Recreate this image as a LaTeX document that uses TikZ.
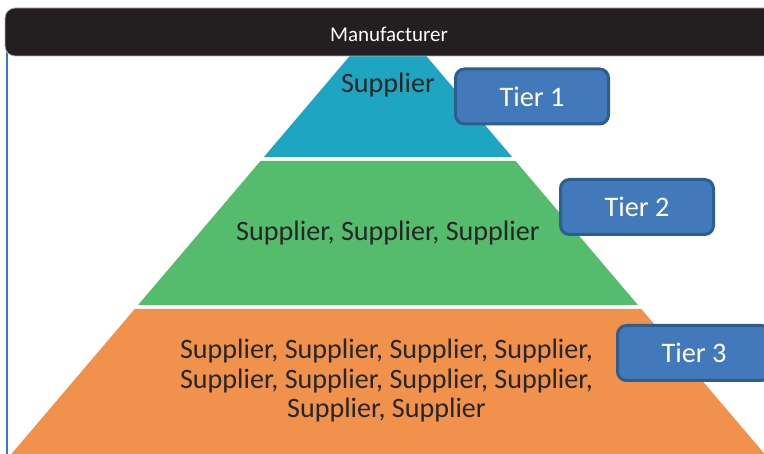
\documentclass[tikz,border=0pt]{standalone}
\usepackage{fontspec}
\setmainfont{Carlito}
\definecolor{teal1}{HTML}{1DA5C2}
\definecolor{green1}{HTML}{55BB6D}
\definecolor{orange1}{HTML}{F0924B}
\definecolor{tierfill}{HTML}{4279BB}
\definecolor{tierdraw}{HTML}{2E5E8E}
\definecolor{txt}{HTML}{262626}
\definecolor{barc}{HTML}{231F20}
\definecolor{leftline}{HTML}{3F78C8}
\tikzset{
  lbl/.style={text=txt, font=\fontsize{28.1}{29.5}\selectfont, inner sep=0pt, align=center},
  tierbox/.style={draw=tierdraw, fill=tierfill, line width=3pt, rounded corners=9pt,
    minimum width=153pt, minimum height=55pt, text=white, inner sep=0pt,
    font=\fontsize{28.3}{30}\selectfont},
  layer/.style={draw=none}
}
\begin{document}
\begin{tikzpicture}[x=1pt,y=-1pt]
\useasboundingbox (0,0) rectangle (764,454);
\clip (0,0) rectangle (764,454);
\fill[white] (0,0) rectangle (764,454);
% pyramid layers
\fill[teal1] (388,11) -- (512.1,157) -- (263.9,157) -- cycle;
\fill[green1] (260.5,161) -- (515.5,161) -- (637.9,305) -- (138.1,305) -- cycle;
\fill[orange1] (134.7,309) -- (641.3,309) -- (764.6,454) -- (11.4,454) -- cycle;
% left line
\coordinate (lt) at (7,12);
\coordinate (lb) at (7,454);
\draw[leftline, line width=1.4pt] (lt) -- (lb);
% top bar
\node[fill=barc, draw=gray!60, line width=0.8pt, rounded corners=10pt,
  minimum width=775pt, minimum height=48pt, inner sep=0pt] (bar) at (392.5,32) {};
\node[text=white, font=\fontsize{21}{23}\selectfont, inner sep=0pt, anchor=base] (mfr) at (389,42) {Manufacturer};
% layer labels
\node[lbl, anchor=base] (s1) at (388,93) {Supplier};
\node[lbl, anchor=base] (s2) at (388,241) {Supplier, Supplier, Supplier};
\node[lbl] (s3) at (386.5,381) {Supplier, Supplier, Supplier, Supplier,\\Supplier, Supplier, Supplier, Supplier,\\Supplier, Supplier};
% tier boxes
\node[tierbox] (t1) at (532,96.5) {Tier 1};
\node[tierbox] (t2) at (637,207) {Tier 2};
\node[tierbox] (t3) at (694,353) {Tier 3};
\end{tikzpicture}
\end{document}
